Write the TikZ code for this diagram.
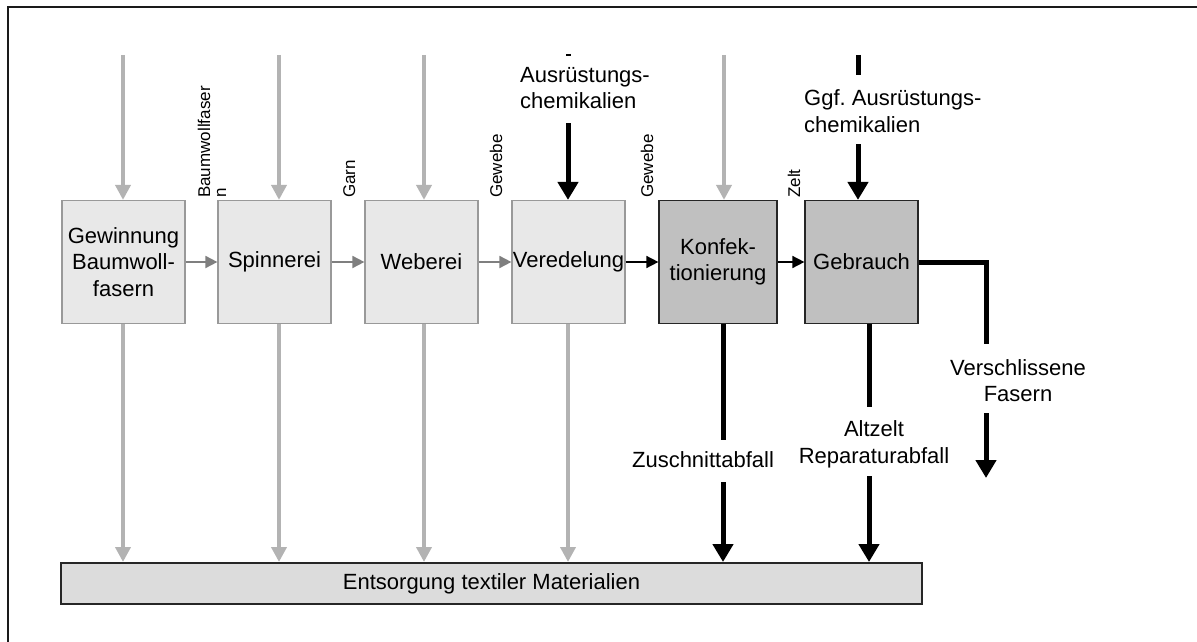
\documentclass[tikz,border=0pt]{standalone}
\usepackage{fontspec}
\setmainfont{Liberation Sans}
\usetikzlibrary{arrows.meta,calc}

\definecolor{framec}{HTML}{1A1A1A}
\definecolor{feedgray}{HTML}{B3B3B3}
\definecolor{flowgray}{HTML}{7F7F7F}
\definecolor{lightfill}{HTML}{E8E8E8}
\definecolor{lightedge}{HTML}{999999}
\definecolor{darkfill}{HTML}{C0C0C0}
\definecolor{dispfill}{HTML}{DCDCDC}

\tikzset{
  proc/.style={draw=lightedge, fill=lightfill, line width=1.2pt,
    minimum height=123pt, inner sep=0pt, align=center,
    font=\fontsize{22}{26.5}\selectfont},
  procdark/.style={proc, draw=black!85, fill=darkfill},
  disposal/.style={draw=black!85, fill=dispfill, line width=2pt,
    minimum width=861pt, minimum height=41pt, inner sep=0pt,
    font=\fontsize{22}{26.5}\selectfont},
  lbl/.style={inner sep=0pt, align=left, font=\fontsize{22}{26.5}\selectfont},
  tag/.style={inner sep=0pt, align=left, rotate=90, font=\fontsize{17}{16}\selectfont},
  feed/.style={draw=feedgray, line width=4pt, -{Triangle[length=15pt,width=15pt]}},
  heavyline/.style={draw=black, line width=5pt},
  heavy/.style={heavyline, -{Triangle[length=18pt,width=20pt]}},
  flow/.style={draw=flowgray, line width=1.8pt, -{Triangle[length=12pt,width=12pt]}},
  flowblack/.style={flow, draw=black, line width=1.6pt}
}

\begin{document}
\begin{tikzpicture}[x=1pt,y=-1pt]
\useasboundingbox (0,0) rectangle (1197,642);

% outer frame (left and top edges)
\draw[framec, line width=2pt] (7.5,642) -- (7.5,7) -- (1197,7);

% process chain
\node[proc, minimum width=123pt] (b1) at (123.5,262) {Gewinnung\\Baumwoll-\\fasern};
\node[proc, minimum width=113pt] (b2) at (274.5,262) {Spinnerei};
\node[proc, minimum width=113pt] (b3) at (421.5,262) {Weberei};
\node[proc, minimum width=113pt] (b4) at (568.5,262) {Veredelung};
\node[procdark, minimum width=118pt] (b5) at (718,262) {Konfek-\\tionierung};
\node[procdark, minimum width=113pt] (b6) at (861.5,262) {Gebrauch};
\node[disposal] (d) at (491.5,583.5) {Entsorgung textiler Materialien};

% product labels between the steps
\node[tag, anchor=north west] (l1) at (197.6,198) {Baumwollfaser\\n};
\node[tag, anchor=base west] (l2) at (355,198) {Garn};
\node[tag, anchor=base west] (l3) at (502,198) {Gewebe};
\node[tag, anchor=base west] (l4) at (653,198) {Gewebe};
\node[tag, anchor=base west] (l5) at (800,198) {Zelt};

% material flow between the steps
\draw[flow] (b1.east) -- (b2.west);
\draw[flow] (b2.east) -- (b3.west);
\draw[flow] (b3.east) -- (b4.west);
\draw[flowblack] (b4.east) -- (b5.west);
\draw[flowblack] (b5.east) -- (b6.west);

% inputs from above
\coordinate (t1) at (123,55);
\coordinate (t2) at (279,55);
\coordinate (t3) at (424,55);
\coordinate (t5) at (724,55);
\draw[feed] (t1) -- (t1 |- b1.north);
\draw[feed] (t2) -- (t2 |- b2.north);
\draw[feed] (t3) -- (t3 |- b3.north);
\draw[feed] (t5) -- (t5 |- b5.north);

\coordinate (t4) at (568,54);
\coordinate (t4a) at (568,56.5);
\coordinate (t4b) at (568,123);
\draw[heavyline] (t4) -- (t4a);
\draw[heavy] (t4b) -- (t4b |- b4.north);
\node[lbl, anchor=west] (chem1) at (520,88) {Ausrüstungs-\\chemikalien};

\coordinate (t6) at (858,55);
\coordinate (t6a) at (858,75);
\coordinate (t6b) at (858,144);
\draw[heavyline] (t6) -- (t6a);
\draw[heavy] (t6b) -- (t6b |- b6.north);
\node[lbl, anchor=west] (chem2) at (804,111) {Ggf.\ Ausrüstungs-\\chemikalien};

% waste streams to disposal
\draw[feed] (t1 |- b1.south) -- (t1 |- d.north);
\draw[feed] (t2 |- b2.south) -- (t2 |- d.north);
\draw[feed] (t3 |- b3.south) -- (t3 |- d.north);
\draw[feed] (t4 |- b4.south) -- (t4 |- d.north);

\coordinate (z0) at (723,440);
\coordinate (z1) at (723,482);
\draw[heavyline] (z0 |- b5.south) -- (z0);
\draw[heavy] (z1) -- (z1 |- d.north);
\node[lbl] (zl) at (703,460) {Zuschnittabfall};

\coordinate (a0) at (869,407);
\coordinate (a1) at (869,476);
\draw[heavyline] (a0 |- b6.south) -- (a0);
\draw[heavy] (a1) -- (a1 |- d.north);
\node[lbl, align=center] (al) at (874,444.5) {Altzelt\\Reparaturabfall};

% worn fibres leaving the system
\coordinate (v0) at (986,344);
\coordinate (v1) at (986,413);
\coordinate (v2) at (986,478);
\draw[heavyline] (b6.east) -| (v0);
\draw[heavy] (v1) -- (v2);
\node[lbl, align=center] (vl) at (1018,380.5) {Verschlissene\\Fasern};
\end{tikzpicture}
\end{document}
